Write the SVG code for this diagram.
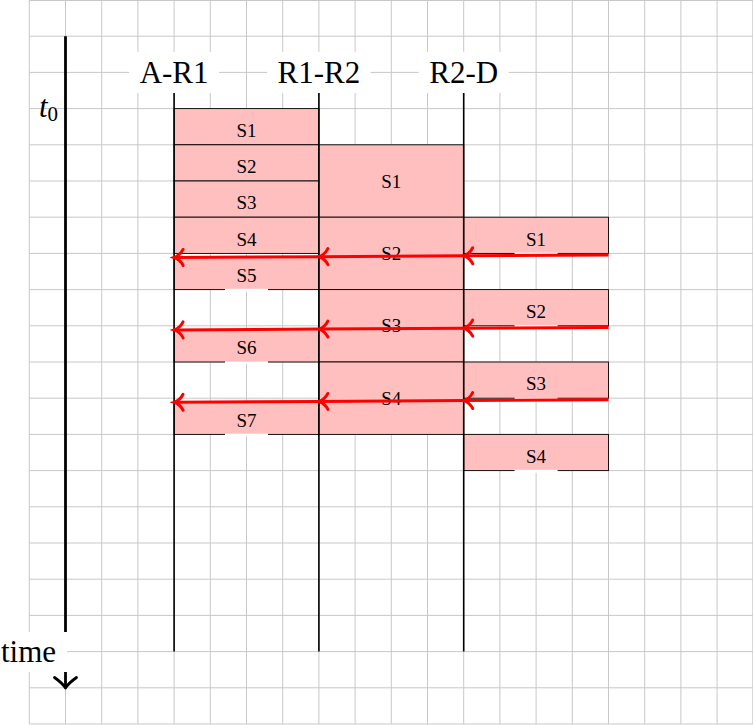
<svg xmlns="http://www.w3.org/2000/svg" width="753" height="725" viewBox="0 0 753 725">
<style>
.grid{stroke:#c8c8c8;stroke-width:1;fill:none}
.blk{fill:#ffbfbf;stroke:#000;stroke-width:0.9}
.gap{fill:#fff;stroke:none}
.col{stroke:#000;stroke-width:1.6;fill:none}
.lblbox{fill:#fff;stroke:none}
.big{font-family:"Liberation Serif","DejaVu Serif",serif;font-size:31px;fill:#000}
.sm{font-family:"Liberation Serif","DejaVu Serif",serif;font-size:19px;fill:#000;text-anchor:middle}
.arr{stroke:#ff0000;stroke-width:3;fill:none;marker-end:url(#to)}
</style>
<defs>
<marker id="to" markerUnits="userSpaceOnUse" viewBox="-12 -10 14 20" markerWidth="14" markerHeight="20" refX="0" refY="0" orient="auto" overflow="visible">
<path d="M-9,-8 C-7,-4 -3,-1 0,0 C-3,1 -7,4 -9,8" fill="none" stroke="#ff0000" stroke-width="3" stroke-linecap="round"/>
</marker>
</defs>
<rect x="0" y="0" width="753" height="725" fill="#fff"/>
<g id="grid" class="grid">
<path d="M29.3,0V724M65.5,0V724M101.7,0V724M137.9,0V724M174.1,0V724M210.3,0V724M246.5,0V724M282.7,0V724M318.9,0V724M355.1,0V724M391.3,0V724M427.5,0V724M463.7,0V724M499.9,0V724M536.1,0V724M572.3,0V724M608.5,0V724M644.7,0V724M680.9,0V724M717.1,0V724M752.8,0V724"/>
<path d="M29.3,0.5H753M29.3,36.2H753M29.3,72.4H753M29.3,108.6H753M29.3,144.8H753M29.3,181H753M29.3,217.2H753M29.3,253.4H753M29.3,289.6H753M29.3,325.8H753M29.3,362H753M29.3,398.2H753M29.3,434.4H753M29.3,470.6H753M29.3,506.8H753M29.3,543H753M29.3,579.2H753M29.3,615.4H753M29.3,651.6H753M29.3,687.8H753M29.3,724H753"/>
</g>
<g id="time-axis">
<line x1="65.5" y1="36.2" x2="65.5" y2="687" stroke="#000" stroke-width="2.8"/>
<path d="M54.5,677.5 C58,680 63,684 65.5,688 C68,684 73,680 76.5,677.5" fill="none" stroke="#000" stroke-width="2.8" stroke-linecap="round" stroke-linejoin="round"/>
<rect class="lblbox" x="-10" y="632" width="77" height="40"/>
<text class="big" x="28.5" y="661.7" text-anchor="middle">time</text>
</g>
<g id="t0">
<text class="big" x="58" y="116.7" text-anchor="end"><tspan font-style="italic">t</tspan><tspan font-size="21" dy="4">0</tspan></text>
</g>
<g id="blocks-AR1">
<rect class="blk" x="174.1" y="108.6" width="144.8" height="36.2"/>
<rect class="blk" x="174.1" y="144.8" width="144.8" height="36.2"/>
<rect class="blk" x="174.1" y="181" width="144.8" height="36.2"/>
<rect class="blk" x="174.1" y="217.2" width="144.8" height="36.2"/>
<rect class="blk" x="174.1" y="257" width="144.8" height="32.6"/>
<rect class="blk" x="174.1" y="329.5" width="144.8" height="32.5"/>
<rect class="blk" x="174.1" y="402" width="144.8" height="32.4"/>
<rect class="gap" x="225" y="288.8" width="43" height="3"/>
<rect class="gap" x="225" y="361.2" width="43" height="3"/>
<rect class="gap" x="225" y="433.6" width="43" height="3"/>
<text class="sm" x="246.5" y="137">S1</text>
<text class="sm" x="246.5" y="173.2">S2</text>
<text class="sm" x="246.5" y="209.4">S3</text>
<text class="sm" x="246.5" y="245.6">S4</text>
<text class="sm" x="246.5" y="281.8">S5</text>
<text class="sm" x="246.5" y="354.2">S6</text>
<text class="sm" x="246.5" y="426.6">S7</text>
</g>
<g id="blocks-R1R2">
<rect class="blk" x="318.9" y="144.8" width="144.8" height="72.4"/>
<rect class="blk" x="318.9" y="217.2" width="144.8" height="72.4"/>
<rect class="blk" x="318.9" y="289.6" width="144.8" height="72.4"/>
<rect class="blk" x="318.9" y="362" width="144.8" height="72.4"/>
<text class="sm" x="391.3" y="187.5">S1</text>
<text class="sm" x="391.3" y="259.9">S2</text>
<text class="sm" x="391.3" y="332.3">S3</text>
<text class="sm" x="391.3" y="404.7">S4</text>
</g>
<g id="blocks-R2D">
<rect class="blk" x="463.7" y="217.2" width="144.8" height="36.2"/>
<rect class="blk" x="463.7" y="289.6" width="144.8" height="36.2"/>
<rect class="blk" x="463.7" y="362" width="144.8" height="36.2"/>
<rect class="blk" x="463.7" y="434.4" width="144.8" height="36.2"/>
<rect class="gap" x="514.6" y="252.6" width="43" height="3"/>
<rect class="gap" x="514.6" y="325" width="43" height="3"/>
<rect class="gap" x="514.6" y="397.4" width="43" height="3"/>
<rect class="gap" x="514.6" y="469.8" width="43" height="3"/>
<text class="sm" x="536.1" y="245.6">S1</text>
<text class="sm" x="536.1" y="318">S2</text>
<text class="sm" x="536.1" y="390.4">S3</text>
<text class="sm" x="536.1" y="462.8">S4</text>
</g>
<g id="col-AR1">
<line class="col" x1="174.1" y1="72.4" x2="174.1" y2="651.6"/>
<rect class="lblbox" x="129.1" y="51.8" width="90" height="41.2"/>
<text class="big" x="174.1" y="83.3" text-anchor="middle">A-R1</text>
</g>
<g id="col-R1R2">
<line class="col" x1="318.9" y1="72.4" x2="318.9" y2="651.6"/>
<rect class="lblbox" x="267.2" y="51.8" width="103.4" height="41.2"/>
<text class="big" x="318.9" y="83.3" text-anchor="middle">R1-R2</text>
</g>
<g id="col-R2D">
<line class="col" x1="463.7" y1="72.4" x2="463.7" y2="651.6"/>
<rect class="lblbox" x="418.7" y="51.8" width="90" height="41.2"/>
<text class="big" x="463.7" y="83.3" text-anchor="middle">R2-D</text>
</g>
<g id="connectors">
<line class="arr" x1="608.5" y1="255" x2="463.7" y2="255.8"/>
<line class="arr" x1="463.7" y1="255.8" x2="318.9" y2="256.7"/>
<line class="arr" x1="318.9" y1="256.7" x2="174.1" y2="257.5"/>
<line class="arr" x1="608.5" y1="327.4" x2="463.7" y2="328.2"/>
<line class="arr" x1="463.7" y1="328.2" x2="318.9" y2="329.1"/>
<line class="arr" x1="318.9" y1="329.1" x2="174.1" y2="329.9"/>
<line class="arr" x1="608.5" y1="399.8" x2="463.7" y2="400.6"/>
<line class="arr" x1="463.7" y1="400.6" x2="318.9" y2="401.5"/>
<line class="arr" x1="318.9" y1="401.5" x2="174.1" y2="402.3"/>
</g>
</svg>
